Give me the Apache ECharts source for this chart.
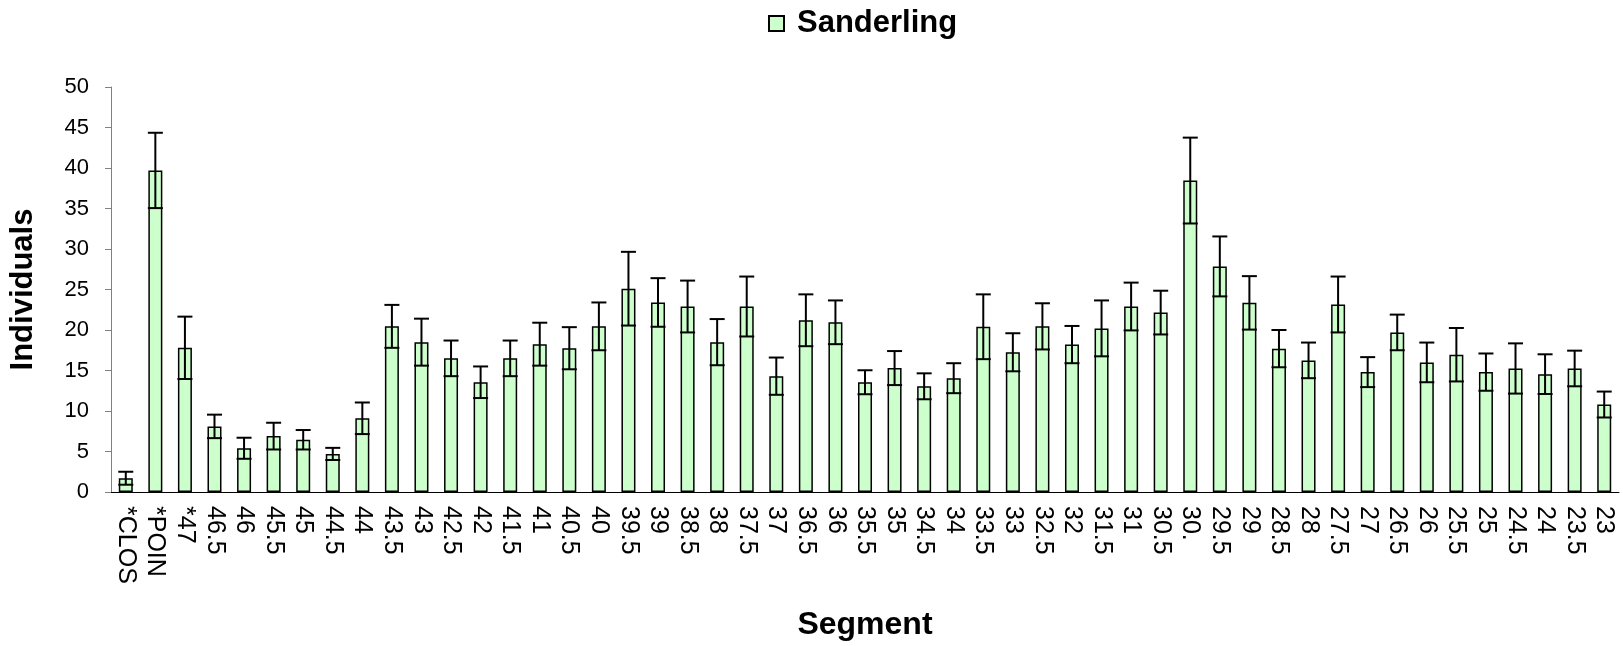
<!DOCTYPE html>
<html>
<head>
<meta charset="utf-8">
<script src="https://cdn.jsdelivr.net/npm/echarts@6/dist/echarts.min.js"></script>
<style>
  html, body { margin: 0; padding: 0; background: #fff; }
  #chart { width: 1623px; height: 646px; }
</style>
</head>
<body>
<div id="chart"></div>
<script>
var categories = ['*CLOS','*POIN','*47','46.5','46','45.5','45','44.5','44','43.5','43','42.5','42','41.5','41','40.5','40','39.5','39','38.5','38','37.5','37','36.5','36','35.5','35','34.5','34','33.5','33','32.5','32','31.5','31','30.5','30.','29.5','29','28.5','28','27.5','27','26.5','26','25.5','25','24.5','24','23.5','23'];

var means = [1.7, 39.7, 17.8, 8.1, 5.4, 6.9, 6.45, 4.7, 9.1, 20.45, 18.5, 16.5, 13.55, 16.5, 18.25, 17.75, 20.45, 25.1, 23.4, 22.9, 18.5, 22.9, 14.3, 21.2, 20.95, 13.55, 15.3, 13.05, 14.05, 20.4, 17.25, 20.45, 18.2, 20.2, 22.9, 22.15, 38.45, 27.85, 23.35, 17.7, 16.25, 23.15, 14.8, 19.7, 16.0, 16.95, 14.8, 15.25, 14.55, 15.25, 10.8];

var errors = [0.8, 4.65, 3.85, 1.45, 1.3, 1.65, 1.2, 0.75, 1.95, 2.65, 2.9, 2.2, 1.95, 2.2, 2.65, 2.6, 2.95, 4.55, 3.0, 3.2, 2.85, 3.7, 2.3, 3.2, 2.7, 1.48, 2.1, 1.6, 1.85, 4.0, 2.35, 2.85, 2.3, 3.45, 2.95, 2.7, 5.3, 3.7, 3.3, 2.3, 2.2, 3.45, 1.85, 2.2, 2.45, 3.3, 2.3, 3.1, 2.45, 2.2, 1.6];

var font = 'Liberation Sans, Arial, sans-serif';

// low / high ends of each error bar
var errData = means.map(function (m, i) {
    return [i, m - errors[i], m + errors[i]];
});

var chart = echarts.init(document.getElementById('chart'));

option = {
    backgroundColor: '#ffffff',
    animation: false,
    legend: {
        data: ['Sanderling'],
        left: 763,
        top: 3,
        icon: 'rect',
        itemWidth: 15,
        itemHeight: 15,
        itemGap: 10,
        textStyle: { fontFamily: font, fontSize: 31, fontWeight: 'bold', color: '#000', padding: [0, 0, 0, 8] }
    },
    grid: { left: 111, right: 4, top: 87, bottom: 153 },
    xAxis: {
        type: 'category',
        data: categories,
        name: 'Segment',
        nameLocation: 'middle',
        nameGap: 117,
        nameTextStyle: { fontFamily: font, fontSize: 32, fontWeight: 'bold', color: '#000' },
        axisLine: { lineStyle: { color: '#000', width: 1 } },
        axisTick: { interval: 0, length: 6, lineStyle: { color: '#808080' } },
        axisLabel: {
            interval: 0,
            rotate: -90,
            margin: 14,
            fontFamily: font,
            fontSize: 25,
            color: '#000'
        }
    },
    yAxis: {
        type: 'value',
        min: 0,
        max: 50,
        interval: 5,
        name: 'Individuals',
        nameLocation: 'middle',
        nameGap: 72,
        nameTextStyle: { fontFamily: font, fontSize: 31, fontWeight: 'bold', color: '#000' },
        axisLine: { show: true, lineStyle: { color: '#808080', width: 1 } },
        axisTick: { show: true, length: 6, lineStyle: { color: '#808080' } },
        splitLine: { show: false },
        axisLabel: { margin: 22, fontFamily: font, fontSize: 22, color: '#000' }
    },
    series: [
        {
            name: 'Sanderling',
            type: 'bar',
            data: means,
            barWidth: 14,
            itemStyle: { color: '#CCFFCC', borderColor: '#000', borderWidth: 1.5 }
        },
        {
            type: 'custom',
            name: 'err',
            data: errData,
            z: 5,
            renderItem: function (params, api) {
                var lo = api.coord([api.value(0), api.value(1)]);
                var hi = api.coord([api.value(0), api.value(2)]);
                var w = 7.5;
                var style = { stroke: '#000', lineWidth: 2 };
                return {
                    type: 'group',
                    children: [
                        { type: 'line', shape: { x1: hi[0], y1: hi[1], x2: lo[0], y2: lo[1] }, style: style },
                        { type: 'line', shape: { x1: hi[0] - w, y1: hi[1], x2: hi[0] + w, y2: hi[1] }, style: style },
                        { type: 'line', shape: { x1: lo[0] - w, y1: lo[1], x2: lo[0] + w, y2: lo[1] }, style: style }
                    ]
                };
            }
        }
    ]
};

chart.setOption(option);
</script>
</body>
</html>
